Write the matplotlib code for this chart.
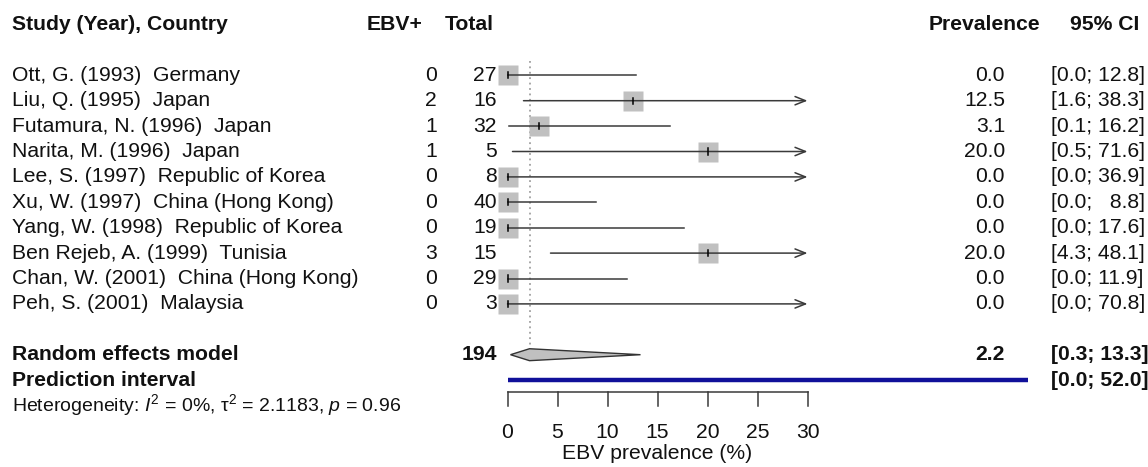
import matplotlib
matplotlib.use('Agg')
import matplotlib.pyplot as plt
import matplotlib.transforms as mtrans
import numpy as np

plt.rcParams['font.family'] = ['Liberation Sans', 'DejaVu Sans']
plt.rcParams['mathtext.fontset'] = 'custom'
plt.rcParams['mathtext.rm'] = 'Liberation Sans'
plt.rcParams['mathtext.it'] = 'Liberation Sans:italic'

studies = ['Ott, G. (1993)  Germany', 'Liu, Q. (1995)  Japan', 'Futamura, N. (1996)  Japan',
           'Narita, M. (1996)  Japan', 'Lee, S. (1997)  Republic of Korea',
           'Xu, W. (1997)  China (Hong Kong)', 'Yang, W. (1998)  Republic of Korea',
           'Ben Rejeb, A. (1999)  Tunisia', 'Chan, W. (2001)  China (Hong Kong)',
           'Peh, S. (2001)  Malaysia']
events = [0, 2, 1, 1, 0, 0, 0, 3, 0, 0]
totals = [27, 16, 32, 5, 8, 40, 19, 15, 29, 3]
prev = [0.0, 12.5, 3.1, 20.0, 0.0, 0.0, 0.0, 20.0, 0.0, 0.0]
ci_lo = [0.0, 1.6, 0.1, 0.5, 0.0, 0.0, 0.0, 4.3, 0.0, 0.0]
ci_hi = [12.8, 38.3, 16.2, 71.6, 36.9, 8.8, 17.6, 48.1, 11.9, 70.8]

re_total = 194
re_est, re_lo, re_hi = 2.2, 0.3, 13.3
pi_lo, pi_hi = 0.0, 52.0
xticks = [0, 5, 10, 15, 20, 25, 30]
xmax_plot = 30

W, H = 1148, 467
fig = plt.figure(figsize=(W / 100, H / 100), dpi=100)
ax = fig.add_axes([0, 0, 1, 1])
ax.axis('off')
# 10 px per percent, 0 at x=507.5 px; 25.4 px per row, row 0 at 24.5 px
ax.set_xlim(-50.75, -50.75 + W / 10)
ax.set_ylim((H - 24.5) / 25.4, -24.5 / 25.4)

tr = mtrans.blended_transform_factory(fig.transFigure, ax.transData)
def px(x):
    return x / W

txt = '#111111'
fs = 15.2
line_c = '#3a3a3a'

# headers
ax.text(px(12), 0, 'Study (Year), Country', transform=tr, ha='left', va='center', fontsize=fs, fontweight='bold', color=txt)
ax.text(px(422), 0, 'EBV+', transform=tr, ha='right', va='center', fontsize=fs, fontweight='bold', color=txt)
ax.text(px(445), 0, 'Total', transform=tr, ha='left', va='center', fontsize=fs, fontweight='bold', color=txt)
ax.text(px(1040), 0, 'Prevalence', transform=tr, ha='right', va='center', fontsize=fs, fontweight='bold', color=txt)
ax.text(px(1139), 0, '95% CI', transform=tr, ha='right', va='center', fontsize=fs, fontweight='bold', color=txt)

rows = np.arange(len(studies)) + 2
for i, r in enumerate(rows):
    ax.text(px(12), r, studies[i], transform=tr, ha='left', va='center', fontsize=fs, color=txt)
    ax.text(px(437), r, str(events[i]), transform=tr, ha='right', va='center', fontsize=fs, color=txt)
    ax.text(px(497), r, str(totals[i]), transform=tr, ha='right', va='center', fontsize=fs, color=txt)
    ax.text(px(1005), r, '%.1f' % prev[i], transform=tr, ha='right', va='center', fontsize=fs, color=txt)
    ci = '[%.1f; %s]' % (ci_lo[i], ('%.1f' % ci_hi[i]).rjust(4).replace(' ', '  '))
    ax.text(px(1051), r, ci, transform=tr, ha='left', va='center', fontsize=fs, color=txt)

# reference line at pooled estimate
r_re = rows[-1] + 2
r_pi = r_re + 1
ax.plot([re_est, re_est], [1.45, r_re - 0.25], color='#a0a0a0', lw=1.3, ls=(0, (1, 2)), zorder=1)

for i, r in enumerate(rows):
    ax.plot(prev[i], r, marker='s', ms=13.7, color='#c0c0c0', mec='none', zorder=2)
    if ci_hi[i] > xmax_plot:
        ax.annotate('', xy=(xmax_plot, r), xytext=(ci_lo[i], r),
                    arrowprops=dict(arrowstyle='->,head_length=0.75,head_width=0.3',
                                    lw=1.1, color=line_c, shrinkA=0, shrinkB=0), zorder=3)
    else:
        ax.plot([ci_lo[i], ci_hi[i]], [r, r], color=line_c, lw=1.1, zorder=3)
    ax.plot([prev[i], prev[i]], [r - 0.12, r + 0.12], color='black', lw=1.1, zorder=4)

# random effects
fsb = fs
ax.text(px(12), r_re, 'Random effects model', transform=tr, ha='left', va='center', fontsize=fsb, fontweight='bold', color=txt)
ax.text(px(497), r_re, str(re_total), transform=tr, ha='right', va='center', fontsize=fsb, fontweight='bold', color=txt)
ax.text(px(1005), r_re, '%.1f' % re_est, transform=tr, ha='right', va='center', fontsize=fsb, fontweight='bold', color=txt)
ax.text(px(1051), r_re, '[%.1f; %.1f]' % (re_lo, re_hi), transform=tr, ha='left', va='center', fontsize=fsb, fontweight='bold', color=txt)
h = 0.235
ax.fill([re_lo, re_est, re_hi, re_est], [r_re, r_re - h, r_re, r_re + h],
        facecolor='#c0c0c0', edgecolor='#333333', lw=1.0, zorder=3)

# prediction interval
ax.text(px(12), r_pi, 'Prediction interval', transform=tr, ha='left', va='center', fontsize=fsb, fontweight='bold', color=txt)
ax.text(px(1051), r_pi, '[%.1f; %.1f]' % (pi_lo, pi_hi), transform=tr, ha='left', va='center', fontsize=fsb, fontweight='bold', color=txt)
ax.plot([pi_lo, pi_hi], [r_pi, r_pi], color='#10109a', lw=3.2, solid_capstyle='butt', zorder=3)

# heterogeneity
ax.text(px(12), r_pi + 1, r'Heterogeneity: $\mathit{I}^2$ = 0%, τ$^2$ = 2.1183, $\mathit{p}$ = 0.96',
        transform=tr, ha='left', va='center', fontsize=14, color=txt)

# x axis
r_ax = 14.47
ax.plot([xticks[0], xticks[-1]], [r_ax, r_ax], color=line_c, lw=1.1)
for t in xticks:
    ax.plot([t, t], [r_ax, r_ax + 0.55], color=line_c, lw=1.1)
    ax.text(t, 16.05, str(t), ha='center', va='center', fontsize=fs, color=txt)
ax.text(np.mean([xticks[0], xticks[-1]]), 16.9, 'EBV prevalence (%)', ha='center', va='center', fontsize=fs, color=txt)

fig.savefig('out.png', dpi=100)
